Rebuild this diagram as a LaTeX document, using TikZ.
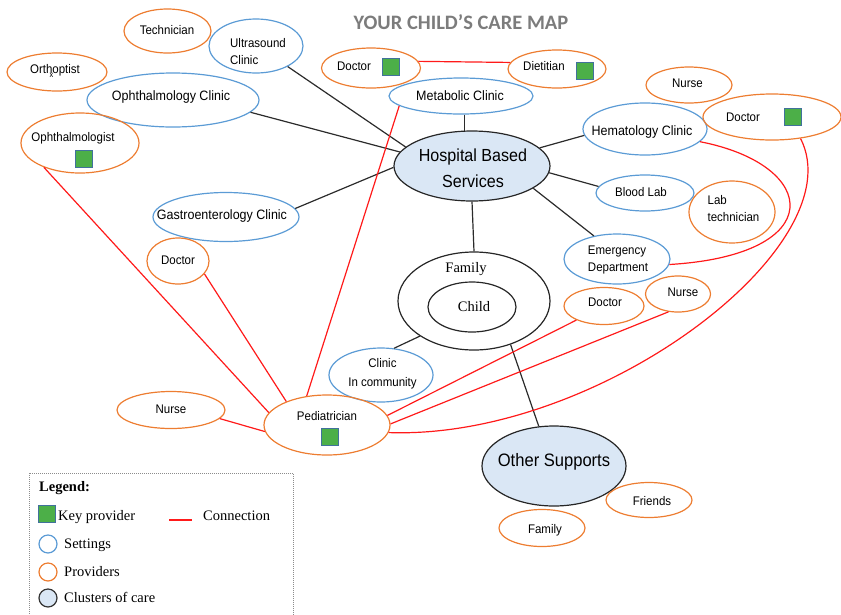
\documentclass[tikz,border=0pt]{standalone}
\usepackage{fontspec}
\usetikzlibrary{shapes.geometric}
\newfontfamily\labfont{Liberation Sans}[FakeStretch=0.92]
\newfontfamily\serfont{Liberation Serif}
\newfontfamily\ttlfont{Carlito}
\definecolor{setblue}{HTML}{5B9BD5}
\definecolor{provorange}{HTML}{ED7D31}
\definecolor{clusterfill}{HTML}{DAE7F5}
\definecolor{keygreen}{HTML}{4CAF48}
\definecolor{keyedge}{HTML}{41719C}
\definecolor{linkred}{HTML}{FF1A1A}
\definecolor{linkgray}{HTML}{2B2B2B}
\definecolor{titlegray}{HTML}{7C7C7C}
\begin{document}
\begin{tikzpicture}[x=1pt,y=-1pt,
  oval/.style 2 args={ellipse, inner sep=0pt, minimum width=2*#1pt, minimum height=2*#2pt},
  setting/.style={draw=setblue, line width=1.2pt},
  provider/.style={draw=provorange, line width=1.2pt},
  cluster/.style={draw=black!85, line width=1.2pt, fill=clusterfill},
  ring/.style={draw=black!85, line width=1.2pt},
  txt/.style={font=\labfont\fontsize{12.5}{17}\selectfont, inner sep=0pt, text height=9.5pt, text depth=1pt},
  settxt/.style={font=\labfont\fontsize{13.6}{17}\selectfont, inner sep=0pt, text height=10pt, text depth=1pt},
  txtm/.style={font=\labfont\fontsize{12.5}{17}\selectfont, inner sep=0pt, align=left},
  bigtxt/.style={font=\labfont\fontsize{17.5}{26}\selectfont, inner sep=0pt, align=center},
  sertxt/.style={font=\serfont\fontsize{14.5}{17}\selectfont, inner sep=0pt, text height=10pt, text depth=1pt},
  keysq/.style={draw=keyedge, fill=keygreen, line width=0.9pt, minimum size=17pt, inner sep=0pt},
  tie/.style={draw=linkgray, line width=1.2pt},
  link/.style={draw=linkred, line width=1.2pt},
  legtxt/.style={font=\serfont\fontsize{14.5}{17}\selectfont, inner sep=0pt, anchor=base west},
  legdot/.style={circle, minimum size=18pt, inner sep=0pt, line width=1.2pt}
]
\useasboundingbox (0,0) rectangle (841,614);

% title
\node[font=\ttlfont\bfseries\fontsize{20.5}{24}\selectfont, text=titlegray, inner sep=0pt] (title) at (461,22) {YOUR CHILD’S CARE MAP};

% clusters of care
\node[cluster, oval={78}{35}] (hosp) at (472,166) {};
\node[bigtxt] (hosp-t) at (473,168) {Hospital Based\\Services};
\node[cluster, oval={72}{40}] (other) at (554,466) {};
\node[bigtxt, font=\labfont\fontsize{18}{22}\selectfont] (other-t) at (554,462) {Other Supports};

% family and child
\node[ring, oval={76}{49}] (fam) at (474,301) {};
\node[ring, oval={44}{25}] (child) at (472,307) {};
\node[sertxt] (fam-t) at (466,268) {Family};
\node[sertxt] (child-t) at (474,307) {Child};

% settings
\node[setting, oval={47}{27}] (us) at (256,46) {};
\node[txtm] (us-t) at (258,52) {Ultrasound\\Clinic};
\node[setting, oval={86}{27}] (oc) at (173,100) {};
\node[settxt] (oc-t) at (171,96) {Ophthalmology Clinic};
\node[setting, oval={72}{18}] (meta) at (461,96) {};
\node[settxt] (meta-t) at (460,96) {Metabolic Clinic};
\node[setting, oval={62}{26}] (hem) at (645,129) {};
\node[settxt] (hem-t) at (642,131) {Hematology Clinic};
\node[setting, oval={73}{24.5}] (gas) at (226,217) {};
\node[settxt] (gas-t) at (222,215) {Gastroenterology Clinic};
\node[setting, oval={49}{18}] (bl) at (645,193) {};
\node[txt] (bl-t) at (641,192) {Blood Lab};
\node[setting, oval={53}{25}] (em) at (617,259) {};
\node[txtm] (em-t) at (618,259.5) {Emergency\\Department};
\node[setting, oval={52}{27}] (cic) at (381,375) {};
\node[txtm, align=center, font=\labfont\fontsize{12.5}{19}\selectfont] (cic-t) at (382.5,374) {Clinic\\In community};

% providers
\node[provider, oval={43.5}{22}] (tech) at (167.5,31) {};
\node[txt] (tech-t) at (167,30) {Technician};
\node[provider, oval={50}{19}] (orth) at (57,72) {};
\node[txt] (orth-t) at (55,69) {Orthoptist};
\node[font=\labfont\fontsize{8}{9}\selectfont, inner sep=0pt] (orth-x) at (51.5,75) {x};
\node[provider, oval={59}{30}] (ophth) at (80,143) {};
\node[txt] (ophth-t) at (73,137) {Ophthalmologist};
\node[keysq] (ophth-k) at (83.5,158.5) {};
\node[provider, oval={49.5}{20}] (d1) at (371,68) {};
\node[txt] (d1-t) at (354,66) {Doctor};
\node[keysq] (d1-k) at (391,67) {};
\node[provider, oval={49}{19}] (diet) at (557,69) {};
\node[txt] (diet-t) at (544,66) {Dietitian};
\node[keysq] (diet-k) at (585,70.5) {};
\node[provider, oval={43}{18}] (nurt) at (689,85) {};
\node[txt] (nurt-t) at (687.5,83) {Nurse};
\node[provider, oval={69}{23}] (docr) at (772,117) {};
\node[txt] (docr-t) at (743,117) {Doctor};
\node[keysq] (docr-k) at (793,116.5) {};
\node[provider, oval={43}{31}] (labt) at (732,212) {};
\node[txtm] (labt-t) at (733.5,209) {Lab\\technician};
\node[provider, oval={31}{23}] (docl) at (178,261) {};
\node[txt] (docl-t) at (178,260) {Doctor};
\node[provider, oval={40}{18.5}] (docb) at (604,306) {};
\node[txt] (docb-t) at (605,302) {Doctor};
\node[provider, oval={32.5}{18}] (nurb) at (678,294) {};
\node[txt] (nurb-t) at (683,292) {Nurse};
\node[provider, oval={54}{18.5}] (nurl) at (171,410) {};
\node[txt] (nurl-t) at (171,409) {Nurse};
\node[provider, oval={63}{30}] (ped) at (327,425) {};
\node[txt] (ped-t) at (327,416) {Pediatrician};
\node[keysq] (ped-k) at (330,437) {};
\node[provider, oval={43}{17.5}] (fri) at (649,500) {};
\node[txt] (fri-t) at (652,501) {Friends};
\node[provider, oval={43}{18.5}] (famb) at (542,528) {};
\node[txt] (famb-t) at (545,529) {Family};

% structural links
\draw[tie] (us.-33) -- (hosp.164.6);
\draw[tie] (oc.-9) -- (hosp.169);
\draw[tie] (meta.south -| hosp.102) -- (hosp.102);
\draw[tie] (hem.186.5) -- (hosp.15.6);
\draw[tie] (gas.7) -- (hosp.181.5);
\draw[tie] (bl.172) -- (hosp.-5);
\draw[tie] (em.135) -- (hosp.-20.8);
\draw[tie] (hosp.south) -- (fam.north);
\draw[tie] (fam.213) -- (cic.64);
\draw[tie] (fam.-50) -- (other.111);

% care connections
\draw[link] (d1.8) -- (diet.172);
\draw[link] (ophth.214) -- (ped.168);
\draw[link] (docl.-26) -- (ped.150);
\draw[link] (meta.189) -- (ped.125);
\draw[link] (nurl.-10) -- (ped.186);
\draw[link] (ped.9) -- (docb.207);
\draw[link] (ped.1) -- (nurb.242);
\draw[link] (ped.-7) .. controls (600,440) and (855,245) .. (docr.-37);
\draw[link] (hem.-13) .. controls (820,165) and (830,255) .. (em.-6);

% legend
\draw[draw=black!45, line width=0.8pt, dash pattern=on 1pt off 1pt] (29,473) rectangle (293,620);
\node[font=\serfont\bfseries\fontsize{14.5}{17}\selectfont, inner sep=0pt, anchor=base west] (leg-t) at (39,491) {Legend:};
\node[keysq] (leg-k) at (46.5,514) {};
\node[legtxt] (leg-k-t) at (58,520.5) {Key provider};
\coordinate (leg-la) at (169,520);
\coordinate (leg-lb) at (192,520);
\draw[link] (leg-la) -- (leg-lb);
\node[legtxt] (leg-l-t) at (203,520.5) {Connection};
\node[legdot, draw=setblue] (leg-s) at (48,544) {};
\node[legtxt] (leg-s-t) at (64,548.5) {Settings};
\node[legdot, draw=provorange] (leg-p) at (48,572) {};
\node[legtxt] (leg-p-t) at (64,576.5) {Providers};
\node[legdot, draw=black!80, fill=clusterfill] (leg-c) at (48,598) {};
\node[legtxt] (leg-c-t) at (64,602.5) {Clusters of care};
\end{tikzpicture}
\end{document}
